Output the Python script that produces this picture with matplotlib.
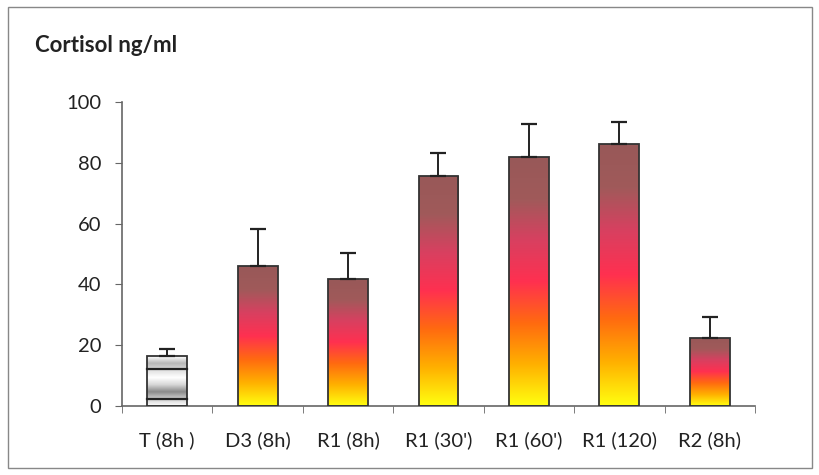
import numpy as np
import matplotlib.pyplot as plt
from matplotlib.colors import LinearSegmentedColormap
from matplotlib.patches import Rectangle

# --- data ---
groups = ["T (8h )", "D3 (8h)", "R1 (8h)", "R1 (30')", "R1 (60')", "R1 (120)", "R2 (8h)"]
cortisol = [16.3, 46.0, 41.8, 75.7, 81.9, 86.2, 22.4]
sem = [2.4, 12.2, 8.5, 7.5, 10.9, 7.2, 6.9]

plt.rcParams['font.family'] = ['Lato', 'DejaVu Sans']

fig = plt.figure(figsize=(8.2, 4.75), dpi=100)
ax = fig.add_axes([0.1488, 0.1453, 0.7719, 0.64])

# yellow -> orange -> red-pink -> brown, bottom to top of every bar
warm = LinearSegmentedColormap.from_list(
    "warm", ["#ffff10", "#ffb000", "#ff6a10", "#ff3050", "#d84060", "#a05a5a", "#985858"])
grey = LinearSegmentedColormap.from_list(
    "grey", ["#ffffff", "#cfcfcf", "#8a8a8a", "#d8d8d8", "#ffffff", "#e0e0e0", "#b8b8b8", "#ffffff"])

width = 0.44
x = np.arange(len(groups))
grad = np.linspace(0, 1, 256).reshape(-1, 1)

for i, (xi, h) in enumerate(zip(x, cortisol)):
    cmap = grey if i == 0 else warm
    im = ax.imshow(grad, cmap=cmap, origin="lower", aspect="auto",
                   extent=[xi - width / 2, xi + width / 2, 0, h], zorder=2)
    rect = Rectangle((xi - width / 2, 0), width, h, fill=False,
                     edgecolor="#333333", linewidth=1.3, zorder=3)
    ax.add_patch(rect)
    im.set_clip_path(rect)
    if i == 0:
        # striped control bar
        for yy in (2.3, 12.2):
            ax.plot([xi - width / 2, xi + width / 2], [yy, yy], color="#222222", lw=1.6, zorder=3)

ax.errorbar(x, cortisol, yerr=[np.zeros(len(sem)), sem], fmt="none",
            ecolor="#222222", elinewidth=1.4, capsize=6, capthick=1.6, zorder=4)

ax.set_xlim(-0.5, len(groups) - 0.5)
ax.set_ylim(0, 100)
ax.set_yticks(range(0, 101, 20))
ax.set_xticks(x)
ax.set_xticklabels(groups, fontsize=14.5)
ax.set_xticks(np.arange(-0.5, len(groups)), minor=True)
ax.tick_params(axis="x", which="major", length=0, pad=18, colors="#222222")
ax.tick_params(axis="x", which="minor", length=5, color="#666666", direction="out")
ax.tick_params(axis="y", labelsize=14.5, length=5, color="#666666", labelcolor="#222222", pad=10)

for s in ("top", "right"):
    ax.spines[s].set_visible(False)
for s in ("left", "bottom"):
    ax.spines[s].set_color("#666666")
    ax.spines[s].set_linewidth(1.2)

fig.text(35 / 820, 1 - 45 / 475, "Cortisol ng/ml", fontsize=16, fontweight="bold",
         va="center", ha="left", color="#222222")

# outer chart frame
fig.patches.append(Rectangle((8 / 820, 7 / 475), 804 / 820, 461 / 475, fill=False,
                             edgecolor="#888888", linewidth=1.0, transform=fig.transFigure))

fig.savefig("out.png", dpi=100)
